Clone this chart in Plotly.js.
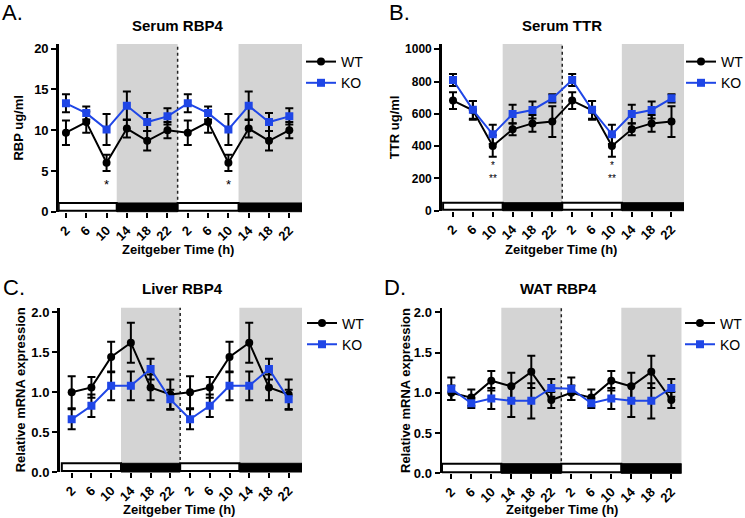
<!DOCTYPE html>
<html><head><meta charset="utf-8">
<script src="https://cdn.plot.ly/plotly-3.0.1.min.js"></script>
<style>html,body{margin:0;padding:0;background:#fff;overflow:hidden}#chart{width:745px;height:518px}</style>
</head><body><div id="chart"></div>
<script>
// Zeitgeber time, double plotted (two 24 h cycles)
const zt = [2, 6, 10, 14, 18, 22, 26, 30, 34, 38, 42, 46];
const tickLabels = ['2', '6', '10', '14', '18', '22', '2', '6', '10', '14', '18', '22'];

// A. Serum RBP4 (ug/ml)
const rbpWT    = [9.7, 11.0, 6.0, 10.2, 8.7, 10.0, 9.7, 11.0, 6.0, 10.2, 8.7, 10.0];
const rbpWTerr = [1.5, 1.3, 1.0, 1.1, 1.2, 1.0, 1.5, 1.3, 1.0, 1.1, 1.2, 1.0];
const rbpKO    = [13.3, 12.1, 10.1, 13.0, 11.0, 11.7, 13.3, 12.1, 10.1, 13.0, 11.0, 11.7];
const rbpKOerr = [1.1, 0.8, 1.9, 1.75, 1.1, 1.0, 1.1, 0.8, 1.9, 1.75, 1.1, 1.0];

// B. Serum TTR (ug/ml)
const ttrWT    = [682, 622, 401, 504, 541, 552, 682, 622, 401, 504, 541, 552];
const ttrWTerr = [52, 58, 66, 36, 52, 95, 52, 58, 66, 36, 52, 95];
const ttrKO    = [810, 625, 473, 599, 624, 696, 810, 625, 473, 599, 624, 696];
const ttrKOerr = [37, 55, 60, 57, 52, 26, 37, 55, 60, 57, 52, 26];

// C. Liver RBP4 (relative mRNA)
const livWT    = [1.00, 1.06, 1.44, 1.62, 1.06, 0.97, 1.00, 1.06, 1.44, 1.62, 1.06, 0.97];
const livWTerr = [0.20, 0.13, 0.19, 0.25, 0.16, 0.19, 0.20, 0.13, 0.19, 0.25, 0.16, 0.19];
const livKO    = [0.66, 0.83, 1.08, 1.08, 1.29, 0.91, 0.66, 0.83, 1.08, 1.08, 1.29, 0.91];
const livKOerr = [0.125, 0.14, 0.18, 0.18, 0.13, 0.12, 0.125, 0.14, 0.18, 0.18, 0.13, 0.12];

// D. WAT RBP4 (relative mRNA)
const watWT    = [1.00, 0.94, 1.15, 1.08, 1.26, 0.91, 1.00, 0.94, 1.15, 1.08, 1.26, 0.91];
const watWTerr = [0.09, 0.10, 0.12, 0.17, 0.20, 0.10, 0.09, 0.10, 0.12, 0.17, 0.20, 0.10];
const watKO    = [1.05, 0.87, 0.93, 0.90, 0.90, 1.06, 1.05, 0.87, 0.93, 0.90, 0.90, 1.06];
const watKOerr = [0.14, 0.06, 0.13, 0.20, 0.22, 0.11, 0.14, 0.06, 0.13, 0.20, 0.22, 0.11];

// significance marks (x in h, y in data units)
const rbpSigX = [10, 34], rbpSigY = [3.35, 3.35], rbpSigT = ['*', '*'];
const ttrSigX = [10, 34], ttrSigY = [240, 240], ttrSigT = ['*<br>**', '*<br>**'];

// light / dark phases (hours)
const lightPhases = [[0, 12], [24, 36]];
const darkPhases = [[12, 24], [36, 48]];
const dayBoundary = 24;
const xTitle = 'Zeitgeber Time (h)';

const W = 745, H = 518;
const FONT = 'Liberation Sans, Arial, Helvetica, sans-serif';
const BLUE = '#1f46e6';
const px = p => p / W;
const py = p => 1 - p / H;

const panels = [
  { letter: 'A.', title: 'Serum RBP4', ytitle: 'RBP ug/ml', wt: rbpWT, wte: rbpWTerr, ko: rbpKO, koe: rbpKOerr,
    xdom: [58.7, 302], ydom: [44, 211.7], xr: [0.57, 48.5], yr: [0, 20.58], yt: [0, 5, 10, 15, 20], yfmt: 'd', bar: 0.052,
    ytick: 13, xtick: 13, ystand: 8, sigSize: 13,
    letterPos: [0, 12.5], titlePos: [178, 25.5], xtitlePos: [178, 249], legPos: [301, 46], sig: [rbpSigX, rbpSigY, rbpSigT] },
  { letter: 'B.', title: 'Serum TTR', ytitle: 'TTR ug/ml', wt: ttrWT, wte: ttrWTerr, ko: ttrKO, koe: ttrKOerr,
    xdom: [441.7, 684], ydom: [44, 210.7], xr: [-0.28, 48.52], yr: [0, 1032.8], yt: [0, 200, 400, 600, 800, 1000], yfmt: 'd', bar: 0.048,
    ytick: 12, xtick: 13, ystand: 3, sigSize: 10,
    letterPos: [387, 12.5], titlePos: [562, 25.5], xtitlePos: [561, 249], legPos: [681, 46], sig: [ttrSigX, ttrSigY, ttrSigT] },
  { letter: 'C.', title: 'Liver RBP4', ytitle: 'Relative mRNA expression', wt: livWT, wte: livWTerr, ko: livKO, koe: livKOerr,
    xdom: [59.5, 302], ydom: [307.7, 472], xr: [-0.47, 48.7], yr: [0, 2.058], yt: [0, 0.5, 1, 1.5, 2], yfmt: '.1f', bar: 0.053,
    ytick: 13, xtick: 13, ystand: 3, sigSize: 13,
    letterPos: [1, 287.5], titlePos: [182, 288], xtitlePos: [179, 509], legPos: [302, 307.5], sig: null },
  { letter: 'D.', title: 'WAT RBP4', ytitle: 'Relative mRNA expression', wt: watWT, wte: watWTerr, ko: watKO, koe: watKOerr,
    xdom: [442, 681.7], ydom: [307.7, 473.3], xr: [0.14, 48.08], yr: [0, 2.057], yt: [0, 0.5, 1, 1.5, 2], yfmt: '.1f', bar: 0.058,
    ytick: 13, xtick: 13, ystand: 1, sigSize: 13,
    letterPos: [382, 287.5], titlePos: [558, 288], xtitlePos: [562, 509], legPos: [680, 307.5], sig: null }
];

const data = [];
const layout = {
  width: W, height: H, margin: { l: 0, r: 0, t: 0, b: 0, autoexpand: false },
  paper_bgcolor: '#fff', plot_bgcolor: 'rgba(0,0,0,0)',
  font: { family: FONT, color: '#000' },
  showlegend: true, shapes: [], annotations: []
};

panels.forEach((p, i) => {
  const n = i === 0 ? '' : String(i + 1);
  const xa = 'x' + n, ya = 'y' + n;
  const leg = i === 0 ? 'legend' : 'legend' + (i + 1);
  data.push({
    x: zt, y: p.wt, type: 'scatter', mode: 'lines+markers', name: 'WT', xaxis: xa, yaxis: ya, legend: leg,
    line: { color: '#000', width: 2 }, marker: { symbol: 'circle', size: 8, color: '#000' },
    error_y: { type: 'data', array: p.wte, visible: true, color: '#000', thickness: 2, width: 4 }
  });
  data.push({
    x: zt, y: p.ko, type: 'scatter', mode: 'lines+markers', name: 'KO', xaxis: xa, yaxis: ya, legend: leg,
    line: { color: BLUE, width: 2 }, marker: { symbol: 'square', size: 8, color: BLUE },
    error_y: { type: 'data', array: p.koe, visible: true, color: '#000', thickness: 2, width: 4 }
  });
  layout['xaxis' + n] = {
    domain: [px(p.xdom[0]), px(p.xdom[1])], anchor: ya, range: p.xr,
    showline: false, showgrid: false, zeroline: false,
    ticks: 'outside', ticklen: 5, tickwidth: 2, tickcolor: '#000',
    tickvals: zt, ticktext: tickLabels, tickangle: -45,
    tickfont: { family: FONT, size: p.xtick, weight: 'bold', color: '#000' }
  };
  layout['yaxis' + n] = {
    domain: [py(p.ydom[1]), py(p.ydom[0])], anchor: xa, range: p.yr,
    showline: true, linewidth: 2.5, linecolor: '#000', showgrid: false, zeroline: false,
    ticks: 'outside', ticklen: 5, tickwidth: 2, tickcolor: '#000',
    tickvals: p.yt, tickformat: p.yfmt,
    tickfont: { family: FONT, size: p.ytick, weight: 'bold', color: '#000' },
    title: { text: p.ytitle, font: { family: FONT, size: 13, weight: 'bold', color: '#000' }, standoff: p.ystand }
  };
  layout[leg] = {
    x: px(p.legPos[0]), y: py(p.legPos[1]), xanchor: 'left', yanchor: 'top',
    bgcolor: 'rgba(0,0,0,0)', borderwidth: 0, tracegroupgap: 0,
    font: { family: FONT, size: 14, color: '#000' }
  };
  const xd = xa, yd = ya + ' domain';
  const endOf = v => (v === 48 ? p.xr[1] : v);
  darkPhases.forEach(ph => {
    layout.shapes.push({ type: 'rect', xref: xd, yref: yd, x0: ph[0], x1: endOf(ph[1]), y0: p.bar, y1: 1,
      fillcolor: '#d4d4d4', line: { width: 0 }, layer: 'below' });
  });
  layout.shapes.push({ type: 'line', xref: xd, yref: yd, x0: dayBoundary, x1: dayBoundary, y0: 0, y1: 1,
    line: { color: '#222', width: 1.5, dash: 'dot' }, layer: 'below' });
  lightPhases.forEach(ph => {
    layout.shapes.push({ type: 'rect', xref: xd, yref: yd, x0: Math.max(ph[0], p.xr[0]), x1: ph[1], y0: 0.006, y1: p.bar,
      fillcolor: '#fff', line: { color: '#000', width: 2 }, layer: 'above' });
  });
  darkPhases.forEach(ph => {
    layout.shapes.push({ type: 'rect', xref: xd, yref: yd, x0: ph[0], x1: endOf(ph[1]), y0: 0, y1: p.bar,
      fillcolor: '#000', line: { color: '#000', width: 1 }, layer: 'above' });
  });
  layout.annotations.push({ xref: 'paper', yref: 'paper', x: px(p.letterPos[0]), y: py(p.letterPos[1]), xanchor: 'left', yanchor: 'middle',
    text: p.letter, showarrow: false, font: { family: FONT, size: 22, color: '#000' } });
  layout.annotations.push({ xref: 'paper', yref: 'paper', x: px(p.titlePos[0]), y: py(p.titlePos[1]), xanchor: 'center', yanchor: 'middle',
    text: p.title, showarrow: false, font: { family: FONT, size: 15, weight: 'bold', color: '#000' } });
  layout.annotations.push({ xref: 'paper', yref: 'paper', x: px(p.xtitlePos[0]), y: py(p.xtitlePos[1]), xanchor: 'center', yanchor: 'middle',
    text: xTitle, showarrow: false, font: { family: FONT, size: 13, weight: 'bold', color: '#000' } });
  if (p.sig) {
    p.sig[0].forEach((sx, k) => {
      layout.annotations.push({ xref: xa, yref: ya, x: sx, y: p.sig[1][k], xanchor: 'center', yanchor: 'middle',
        text: p.sig[2][k], showarrow: false, font: { family: FONT, size: p.sigSize, color: '#000' } });
    });
  }
});

Plotly.newPlot('chart', data, layout, { displayModeBar: false, staticPlot: true });
</script>
</body></html>
